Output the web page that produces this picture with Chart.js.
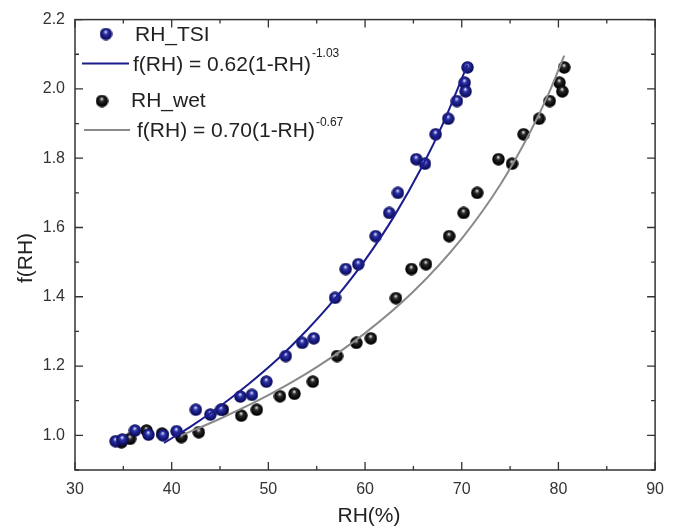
<!DOCTYPE html>
<html>
<head>
<meta charset="utf-8">
<script src="https://cdn.jsdelivr.net/npm/chart.js@4"></script>
<style>
  body { margin: 0; background: #fff; }
  canvas { display: block; }
</style>
</head>
<body>
<canvas id="myChart" width="674" height="530"></canvas>
<script>
// measured points, RH in %, f(RH) unitless
var rhTsi = [34.2, 34.9, 36.2, 37.6, 39.1, 40.5, 42.5, 44.0, 45.1, 47.1, 48.3, 49.8, 51.8, 53.5, 54.7,
             56.9, 58.0, 59.3, 61.1, 62.5, 63.4, 65.3, 66.2, 67.3, 68.6, 69.5, 70.3, 70.4, 70.6];
var fTsi = [0.983, 0.988, 1.014, 1.002, 1.000, 1.012, 1.074, 1.060, 1.074, 1.112, 1.117, 1.155, 1.229, 1.267, 1.280,
            1.397, 1.480, 1.494, 1.575, 1.642, 1.700, 1.797, 1.784, 1.869, 1.914, 1.965, 2.018, 1.993, 2.062];

var rhWet = [34.8, 35.7, 37.4, 39.0, 41.0, 42.8, 45.3, 47.2, 48.8, 51.2, 52.7, 54.6, 57.1, 59.1, 60.6,
             63.2, 64.8, 66.3, 68.7, 70.2, 71.6, 73.8, 75.2, 76.4, 78.0, 79.1, 80.1, 80.4, 80.6];
var fWet = [0.980, 0.990, 1.014, 1.005, 0.995, 1.009, 1.074, 1.057, 1.074, 1.113, 1.120, 1.155, 1.229, 1.267, 1.280,
            1.396, 1.480, 1.494, 1.575, 1.642, 1.700, 1.797, 1.784, 1.869, 1.914, 1.965, 2.018, 1.993, 2.062];

// fitted curves
var fitRhTsi = [39.2, 42, 45, 48, 51, 54, 57, 60, 63, 66, 68, 70.6];
var fitFTsi = [0.978, 1.026, 1.084, 1.149, 1.221, 1.304, 1.398, 1.506, 1.632, 1.781, 1.896, 2.070];
var fitRhWet = [41, 45, 50, 55, 60, 65, 70, 74, 77, 79, 80.6];
var fitFWet = [1.000, 1.048, 1.116, 1.197, 1.295, 1.415, 1.568, 1.724, 1.871, 1.987, 2.096];

var seriesNames = ['RH_TSI', 'RH_wet'];
var fitLabels = ['f(RH) = 0.62(1-RH)', 'f(RH) = 0.70(1-RH)'];
var fitExponents = ['-1.03', '-0.67'];

var xMajor = [30, 40, 50, 60, 70, 80, 90];
var xMinor = [35, 45, 55, 65, 75, 85];
var yMajor = [1.0, 1.2, 1.4, 1.6, 1.8, 2.0, 2.2];
var yMinor = [0.9, 1.1, 1.3, 1.5, 1.7, 1.9, 2.1];

var FONT = '"Liberation Sans", Arial, sans-serif';

function pairs(xs, ys) {
    return xs.map(function (x, i) { return { x: x, y: ys[i] }; });
}

// shaded ball used as marker
function makeBall(dark, mid, light) {
    var c = document.createElement('canvas');
    c.width = 13; c.height = 13;
    var g = c.getContext('2d');
    var grad = g.createRadialGradient(6.2, 4.2, 0.3, 6.5, 6.5, 6.6);
    grad.addColorStop(0, light);
    grad.addColorStop(0.3, mid);
    grad.addColorStop(0.85, dark);
    grad.addColorStop(1, dark);
    g.fillStyle = grad;
    g.beginPath();
    g.arc(6.5, 6.5, 6.2, 0, Math.PI * 2);
    g.fill();
    return c;
}

var blueBall = makeBall('#0b0b5c', '#2b32a8', '#dfe2ff');
var blackBall = makeBall('#000000', '#2a2a2a', '#e8e8e8');

var frameAndLegend = {
    id: 'frameAndLegend',
    afterDraw: function (chart) {
        var ctx = chart.ctx, a = chart.chartArea;
        var xs = chart.scales.x, ys = chart.scales.y;
        ctx.save();

        // frame
        ctx.strokeStyle = '#333';
        ctx.lineWidth = 1.5;
        ctx.strokeRect(a.left, a.top, a.right - a.left, a.bottom - a.top);

        // inward ticks on all four sides
        ctx.lineWidth = 1.3;
        ctx.beginPath();
        function xTick(v, len) {
            var p = xs.getPixelForValue(v);
            ctx.moveTo(p, a.bottom); ctx.lineTo(p, a.bottom - len);
            ctx.moveTo(p, a.top); ctx.lineTo(p, a.top + len);
        }
        function yTick(v, len) {
            var p = ys.getPixelForValue(v);
            ctx.moveTo(a.left, p); ctx.lineTo(a.left + len, p);
            ctx.moveTo(a.right, p); ctx.lineTo(a.right - len, p);
        }
        xMajor.forEach(function (v) { xTick(v, 8); });
        xMinor.forEach(function (v) { xTick(v, 4); });
        yMajor.forEach(function (v) { yTick(v, 8); });
        yMinor.forEach(function (v) { yTick(v, 4); });
        ctx.stroke();

        // axis titles
        ctx.fillStyle = '#222';
        ctx.font = '21px ' + FONT;
        ctx.textAlign = 'center';
        ctx.textBaseline = 'middle';
        ctx.fillText('RH(%)', 369, 516);
        ctx.save();
        ctx.translate(26, 258);
        ctx.rotate(-Math.PI / 2);
        ctx.fillText('f(RH)', 0, 0);
        ctx.restore();

        // legend
        ctx.textAlign = 'left';
        ctx.drawImage(blueBall, 106 - 6.5, 34 - 6.5);
        ctx.drawImage(blackBall, 102 - 6.5, 101 - 6.5);
        ctx.fillText(seriesNames[0], 135, 35);
        ctx.fillText(seriesNames[1], 131, 101);

        ctx.lineWidth = 2;
        ctx.strokeStyle = '#1c1c8e';
        ctx.beginPath(); ctx.moveTo(82, 63.5); ctx.lineTo(129, 63.5); ctx.stroke();
        ctx.strokeStyle = '#8a8a8a';
        ctx.beginPath(); ctx.moveTo(84, 130); ctx.lineTo(130, 130); ctx.stroke();

        var rows = [[133, 65, 54], [137, 131, 123]];
        rows.forEach(function (r, i) {
            ctx.font = '21px ' + FONT;
            ctx.fillText(fitLabels[i], r[0], r[1]);
            var w = ctx.measureText(fitLabels[i]).width;
            ctx.font = '12px ' + FONT;
            ctx.fillText(fitExponents[i], r[0] + w + 1, r[2]);
        });

        ctx.restore();
    }
};

var myChart = document.getElementById('myChart').getContext('2d');

var rhChart = new Chart(myChart, {
    type: 'scatter',
    data: {
        datasets: [{
            label: fitLabels[0],
            data: pairs(fitRhTsi, fitFTsi),
            showLine: true,
            borderColor: '#1c1c8e',
            borderWidth: 2,
            pointRadius: 0,
            cubicInterpolationMode: 'monotone'
        }, {
            label: fitLabels[1],
            data: pairs(fitRhWet, fitFWet),
            showLine: true,
            borderColor: '#8a8a8a',
            borderWidth: 2,
            pointRadius: 0,
            cubicInterpolationMode: 'monotone'
        }, {
            label: seriesNames[0],
            data: pairs(rhTsi, fTsi),
            pointStyle: blueBall,
            pointRadius: 6
        }, {
            label: seriesNames[1],
            data: pairs(rhWet, fWet),
            pointStyle: blackBall,
            pointRadius: 6
        }]
    },
    options: {
        responsive: false,
        animation: false,
        events: [],
        layout: { padding: { top: 17, right: 11, left: 0, bottom: 0 } },
        plugins: {
            legend: { display: false },
            tooltip: { enabled: false }
        },
        scales: {
            x: {
                type: 'linear',
                min: 30,
                max: 90,
                grid: { display: false, drawTicks: false },
                border: { display: false },
                afterFit: function (s) { s.height = 60; },
                afterBuildTicks: function (s) { s.ticks = xMajor.map(function (v) { return { value: v }; }); },
                ticks: {
                    padding: 10,
                    color: '#333',
                    font: { family: FONT, size: 16 },
                    maxRotation: 0
                }
            },
            y: {
                type: 'linear',
                min: 0.9,
                max: 2.2,
                grid: { display: false, drawTicks: false },
                border: { display: false },
                afterFit: function (s) { s.width = 75; },
                afterBuildTicks: function (s) { s.ticks = yMajor.map(function (v) { return { value: v }; }); },
                ticks: {
                    padding: 10,
                    color: '#333',
                    font: { family: FONT, size: 16 },
                    callback: function (v) { return v.toFixed(1); }
                }
            }
        }
    },
    plugins: [frameAndLegend]
});
</script>
</body>
</html>
